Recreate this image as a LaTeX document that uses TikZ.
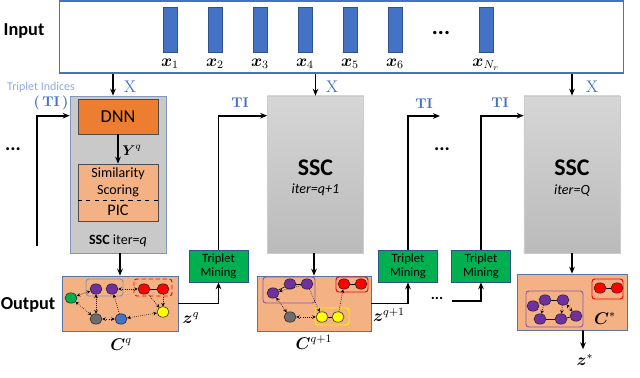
\documentclass[tikz,border=0pt]{standalone}
\usepackage{xcolor,tikz}
\usepackage{amsmath,amssymb,amsfonts}
\usepackage{fontspec}
\setsansfont{Carlito}
\usetikzlibrary{positioning,shapes.geometric,arrows.meta}

\definecolor{barblue}{HTML}{4472C4}
\definecolor{bardark}{HTML}{2F528F}
\definecolor{dnnorange}{HTML}{ED7D31}
\definecolor{lightorange}{HTML}{F4B183}
\definecolor{tmgreen}{HTML}{00B050}
\definecolor{sscgray}{HTML}{C9C9C9}
\definecolor{tilight}{HTML}{8FAADC}
\definecolor{grpgray}{HTML}{8497B0}
\definecolor{npurple}{HTML}{7030A0}
\definecolor{nred}{HTML}{FF0000}
\definecolor{ngreen}{HTML}{00B050}
\definecolor{nyellow}{HTML}{FFFF00}
\definecolor{ngray}{HTML}{6D6D6D}
\definecolor{nblue}{HTML}{4472C4}

\tikzset{
    arr/.style={-{Stealth[length=5pt,width=4pt]}, line width=1.3pt},
    bar/.style={draw=bardark, fill=barblue, minimum width=0.35cm, minimum height=1.125cm, inner sep=0pt},
    sscbox/.style={draw=bardark!60, fill=sscgray, minimum width=2.4cm, minimum height=3.925cm, inner sep=0pt},
    sscbig/.style={draw=black!20, top color=black!16, bottom color=black!27, minimum width=2.4cm, minimum height=3.925cm, inner sep=0pt},
    tmbox/.style={draw=bardark, fill=tmgreen, minimum width=1.475cm, minimum height=0.8cm, inner sep=0pt, align=center, font=\sffamily\fontsize{9}{10}\selectfont},
    cbox/.style={draw=bardark!80, fill=lightorange, minimum height=1.375cm, inner sep=0pt},
    xlbl/.style={text=barblue, font=\rmfamily\fontsize{12}{12}\selectfont},
    tilbl/.style={text=barblue, font=\rmfamily\bfseries\fontsize{10}{10}\selectfont},
    gnode/.style={ellipse, draw=black!85, line width=0.4pt, minimum width=0.3cm, minimum height=0.26cm, inner sep=0pt},
    gedge/.style={{Stealth[length=2.5pt,width=2.5pt]}-{Stealth[length=2.5pt,width=2.5pt]}, densely dotted, line width=0.45pt},
    gone/.style={-{Stealth[length=2.5pt,width=2.5pt]}, densely dotted, line width=0.45pt},
    gline/.style={line width=0.45pt},
    grp/.style={rounded corners=2pt, line width=0.7pt},
}

\begin{document}
\begin{tikzpicture}[x=0.025cm, y=-0.025cm, font=\sffamily]
    \useasboundingbox (0,0) rectangle (640,377);

    % input row
    \node (inbox) [draw=barblue, line width=0.8pt, minimum width=14.075cm, minimum height=1.8cm] at (341.5,37) {};
    \node (intxt) [font=\sffamily\bfseries\fontsize{13}{13}\selectfont] at (24,31) {Input};
    \foreach \i/\x in {1/170, 2/215, 3/260, 4/305, 5/350, 6/395} {
        \node (bar\i) [bar] at (\x,29.5) {};
        \node (xl\i) [below=1pt of bar\i, font=\large] {$\boldsymbol{x}_{\i}$};
    }
    \node (barN) [bar] at (486,29.5) {};
    \node (xlN) [below=1pt of barN, font=\large] {$\boldsymbol{x}_{N_r}$};
    \node (indots) [font=\sffamily\bfseries\fontsize{16}{16}\selectfont] at (441,33) {...};

    % SSC at iteration q
    \node (ssc1) [sscbox] at (118,174.5) {};
    \node (dnn) [draw=black!70, fill=dnnorange, minimum width=2cm, minimum height=0.875cm, font=\sffamily\fontsize{13}{13}\selectfont] at (118,116.5) {DNN};
    \node (sim) [draw=black!70, fill=lightorange, minimum width=2cm, minimum height=1.425cm, inner sep=0pt] at (118,192.5) {};
    \node (simtxt) [align=center, font=\sffamily\fontsize{10}{12}\selectfont] at (118,182) {Similarity\\Scoring};
    \node (pic) [font=\sffamily\fontsize{11.5}{12}\selectfont] at (118,210) {PIC};
    \draw[dashed, line width=0.7pt] (sim.west |- 0,200) -- (sim.east |- 0,200);
    \node (ssc1txt) [font=\sffamily\fontsize{10}{10}\selectfont] at (118,241) {\textbf{SSC} iter=\textit{q}};
    \draw[arr] (dnn) -- (sim);
    \node (yq) at (132,150) {$\boldsymbol{Y}^{q}$};

    % SSC at later iterations
    \node (ssc2) [sscbig] at (315.5,174.5) {};
    \node (ssc2txt) [align=center] at (315.5,178) {{\fontsize{17}{17}\selectfont\bfseries SSC}\\[1pt] {\fontsize{10}{10}\selectfont\itshape iter=q+1}};
    \node (ssc3) [sscbig] at (572,174.5) {};
    \node (ssc3txt) [align=center] at (572,178) {{\fontsize{17}{17}\selectfont\bfseries SSC}\\[1pt] {\fontsize{10}{10}\selectfont\itshape iter=Q}};

    % inputs X into SSC
    \draw[arr] (inbox.south -| 113,0) -- (ssc1.north -| 113,0);
    \draw[arr] (inbox.south -| ssc2) -- (ssc2.north);
    \draw[arr] (inbox.south -| ssc3) -- (ssc3.north);
    \node (X1) [xlbl] at (130,87) {X};
    \node (X2) [xlbl] at (332,87) {X};
    \node (X3) [xlbl] at (592,87) {X};

    % triplet indices
    \node (tilabel) [text=tilight, font=\sffamily\fontsize{8.5}{9}\selectfont] at (41,87) {Triplet Indices};
    \node (ti0) [tilbl] at (51,103) {(\,TI\,)};
    \coordinate (fb0) at (37,246);
    \draw[arr] (fb0) |- ([yshift=-0.5cm]ssc1.north west);
    \node (ldots) [font=\sffamily\bfseries\fontsize{14}{14}\selectfont] at (13,149) {...};

    % triplet mining
    \node (tm1) [tmbox] at (218.5,266) {Triplet\\Mining};
    \node (tm2) [tmbox] at (408,266) {Triplet\\Mining};
    \node (tm3) [tmbox] at (481,266) {Triplet\\Mining};
    \coordinate (free2) at (440,116);
    \draw[arr] (tm1.north) |- ([yshift=-0.5cm]ssc2.north west);
    \draw[arr] (tm2.north) |- (free2);
    \draw[arr] (tm3.north) |- ([yshift=-0.5cm]ssc3.north west);
    \node (ti1) [tilbl] at (240,103) {TI};
    \node (ti2) [tilbl] at (424,104) {TI};
    \node (ti3) [tilbl] at (500,103) {TI};
    \node (mdots) [font=\sffamily\bfseries\fontsize{14}{14}\selectfont] at (442,149) {...};

    % output row
    \node (outtxt) [font=\sffamily\bfseries\fontsize{13}{13}\selectfont] at (28,305) {Output};
    \node (cq) [cbox, minimum width=2.9cm] at (120,303.5) {};
    \node (cq1) [cbox, minimum width=2.85cm] at (314,303.5) {};
    \node (cs) [cbox, minimum width=2.75cm, minimum height=1.4cm] at (572,302) {};
    \draw[arr] (ssc1.south -| cq) -- (cq.north);
    \draw[arr] (ssc2.south -| cq1) -- (cq1.north);
    \draw[arr] (ssc3.south) -- (cs.north);
    \draw[arr] (cq.east) -| (tm1.south);
    \draw[arr] (cq1.east) -| (tm2.south);
    \node (bdots) [font=\sffamily\bfseries\fontsize{11}{11}\selectfont] at (437,298) {...};
    \coordinate (fb3) at (452,301);
    \draw[arr] (fb3) -| (tm3.south);
    \node (zq) [font=\large] at (191,318) {$\boldsymbol{z}^{q}$};
    \node (zq1) [font=\large] at (389,315) {$\boldsymbol{z}^{q+1}$};
    \node (Cq) [font=\large] at (121,345) {$\boldsymbol{C}^{q}$};
    \node (Cq1) [font=\large] at (314,342) {$\boldsymbol{C}^{q+1}$};
    \node (Cs) [font=\large] at (605,318) {$\boldsymbol{C}^{*}$};
    \node (zs) [font=\large] at (585,360) {$\boldsymbol{z}^{*}$};
    \draw[arr] ([xshift=0.275cm]cs.south) -- (zs.north -| 583,0);

    % clusters C^q
    \draw[grp, draw=grpgray] (86,279) rectangle (123,296);
    \draw[grp, draw=nred, densely dashed] (134,279) rectangle (172,296);
    \node (a1) [gnode, fill=npurple] at (96,289) {};
    \node (a2) [gnode, fill=npurple] at (112,289) {};
    \node (a3) [gnode, fill=nred] at (144,289) {};
    \node (a4) [gnode, fill=nred] at (163,289) {};
    \node (a5) [gnode, fill=ngreen] at (71,298) {};
    \node (a6) [gnode, fill=nyellow] at (163,312) {};
    \node (a7) [gnode, fill=ngray] at (96,319) {};
    \node (a8) [gnode, fill=nblue] at (121,319) {};
    \draw[gedge] (a5) -- (a1);
    \draw[gedge] (a5) -- (a7);
    \draw[gedge] (a1) -- (a7);
    \draw[gedge] (a7) -- (a8);
    \draw[gone] (a8) -- (a2);
    \draw[gedge] (a2) -- (a3);
    \draw[gline] (a3) -- (a4);
    \draw[gone] (a3) -- (a6);
    \draw[gone] (a4) -- (a6);
    \draw[gedge] (a6) -- (a8);

    % clusters C^{q+1}
    \draw[grp, draw=npurple!80] (263,277) rectangle (315,303);
    \draw[grp, draw=nred] (336,277) rectangle (368,292);
    \draw[grp, draw=nyellow!90!orange] (315,308) rectangle (349,325);
    \node (b1) [gnode, fill=npurple] at (290,284) {};
    \node (b2) [gnode, fill=npurple] at (307,284) {};
    \node (b3) [gnode, fill=npurple] at (273,293) {};
    \node (b4) [gnode, fill=nred] at (344,284) {};
    \node (b5) [gnode, fill=nred] at (361,284) {};
    \node (b6) [gnode, fill=nyellow] at (322,317) {};
    \node (b7) [gnode, fill=nyellow] at (338,317) {};
    \node (b8) [gnode, fill=ngray] at (290,317) {};
    \draw[gline] (b3) -- (b1);
    \draw[gline] (b1) -- (b2);
    \draw[gone] (b2) -- (b3);
    \draw[gone] (b2) -- (b6);
    \draw[gedge] (b3) -- (b8);
    \draw[gedge] (b8) -- (b6);
    \draw[gone] (b7) -- (b4);
    \draw[gline] (b6) -- (b7);
    \draw[gline] (b4) -- (b5);

    % clusters C^*
    \draw[grp, draw=nred] (592,279) rectangle (623,299);
    \draw[grp, draw=npurple!80] (526,291) rectangle (583,327);
    \node (c1) [gnode, fill=nred] at (600,288) {};
    \node (c2) [gnode, fill=nred] at (617,288) {};
    \node (d1) [gnode, fill=npurple] at (533,306) {};
    \node (d2) [gnode, fill=npurple] at (545,300) {};
    \node (d3) [gnode, fill=npurple] at (563,300) {};
    \node (d4) [gnode, fill=npurple] at (540,319) {};
    \node (d5) [gnode, fill=npurple] at (561,319) {};
    \node (d6) [gnode, fill=npurple] at (576,316) {};
    \draw[gline] (c1) -- (c2);
    \draw[gline] (d1) -- (d2);
    \draw[gline] (d2) -- (d3);
    \draw[gone] (d2) -- (d4);
    \draw[gone] (d3) -- (d5);
    \draw[gline] (d4) -- (d5);
    \draw[gline] (d5) -- (d6);
    \draw[gedge] (d3) -- (d6);
\end{tikzpicture}
\end{document}
